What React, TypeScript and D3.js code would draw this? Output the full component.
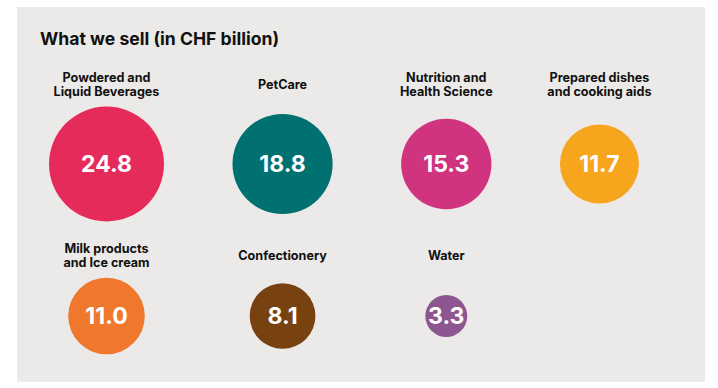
import * as d3 from 'd3';

const categories = [
  ['Powdered and', 'Liquid Beverages'],
  ['PetCare'],
  ['Nutrition and', 'Health Science'],
  ['Prepared dishes', 'and cooking aids'],
  ['Milk products', 'and Ice cream'],
  ['Confectionery'],
  ['Water'],
];
const values = [24.8, 18.8, 15.3, 11.7, 11.0, 8.1, 3.3];
const colors = ['#E52B5A', '#007070', '#D0347F', '#F6A51C', '#EF782C', '#77420F', '#8D5690'];
const rows = [0, 0, 0, 0, 1, 1, 1];
const cols = [0, 1, 2, 3, 0, 1, 2];
const title = 'What we sell (in CHF billion)';

const W = 718;
const H = 388;
const font = 'Inter, "Noto Sans", sans-serif';

const App = () => {
  const r = d3.scaleSqrt().domain([0, d3.max(values) as number]).range([0, 57.5]);

  // columns are packed from the first row's circles with an even gap
  const gap = 68.5;
  const colX: number[] = [];
  let edge = 49;
  values.forEach((v, i) => {
    if (rows[i] !== 0) return;
    colX.push(edge + r(v));
    edge += 2 * r(v) + gap;
  });

  const y = d3.scalePoint<number>().domain([0, 1]).range([164, 316]);
  const maxR = [0, 1].map((row) => d3.max(values.filter((_, i) => rows[i] === row), (v) => r(v)) as number);

  return (
    <div style={{ position: 'fixed', left: 0, top: 0 }}>
      <svg width={W} height={H} style={{ display: 'block' }}>
        <rect x={0} y={0} width={W} height={H} fill='#fff' />
        <rect x={17} y={7} width={688} height={375} fill='#EBEAE8' />
        <text x={40} y={38.5} dy='0.35em' fontFamily={font} fontWeight={700} fontSize={17.6} fill='#111'>
          {title}
        </text>
        {values.map((v, i) => {
          const cx = colX[cols[i]];
          const cy = y(rows[i]) as number;
          const lines = categories[i];
          const ly = cy - maxR[rows[i]] - 22;
          return (
            <g key={i}>
              <text textAnchor='middle' fontFamily={font} fontWeight={700} fontSize={12.6} fill='#111'>
                {lines.map((t, j) => (
                  <tspan key={j} x={cx} y={ly + (j - (lines.length - 1) / 2) * 14.5} dy='0.35em'>
                    {t}
                  </tspan>
                ))}
              </text>
              <circle cx={cx} cy={cy} r={r(v)} fill={colors[i]} />
              <text x={cx} y={cy} dy='0.36em' textAnchor='middle' fontFamily={font} fontWeight={700} fontSize={23} fill='#fff'>
                {v.toFixed(1)}
              </text>
            </g>
          );
        })}
      </svg>
    </div>
  );
};

export default App;
